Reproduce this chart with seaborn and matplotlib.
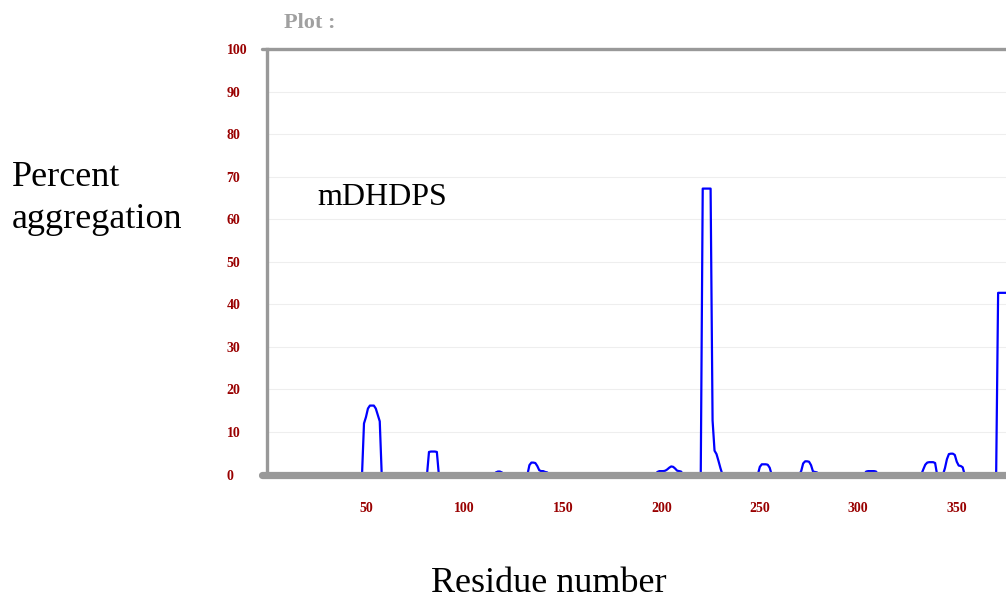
import numpy as np
import pandas as pd
import seaborn as sns
import matplotlib
matplotlib.use("Agg")
import matplotlib.pyplot as plt


# ========================================
# Data
# ========================================
residues = [
    1, 48, 49, 50, 51, 52, 53, 54, 55, 56, 57, 58,
    81, 82, 83, 84, 85, 86, 87,
    115, 116, 117, 118, 119, 120,
    132, 133, 134, 135, 136, 137, 138, 139, 140, 141, 142, 143,
    197, 198, 199, 200, 201, 202, 203, 204, 205, 206, 207, 208, 209, 210, 211,
    220, 221, 222, 223, 224, 225, 226, 227, 228, 229, 230, 231,
    249, 250, 251, 252, 253, 254, 255, 256,
    270, 271, 272, 273, 274, 275, 276, 277, 278, 279, 280,
    303, 304, 305, 306, 307, 308, 309, 310,
    332, 333, 334, 335, 336, 337, 338, 339, 340,
    343, 344, 345, 346, 347, 348, 349, 350, 351, 352, 353, 354,
    370, 371, 372, 373, 374, 375,
]
aggregation = [
    0, 0, 12.0, 13.5, 15.5, 16.2, 16.2, 16.2, 15.5, 14.0, 12.5, 0,
    0, 5.3, 5.4, 5.4, 5.4, 5.3, 0,
    0, 0.5, 0.7, 0.7, 0.5, 0,
    0, 2.2, 2.8, 2.8, 2.7, 2.0, 1.0, 0.8, 0.8, 0.6, 0.5, 0,
    0, 0.6, 0.8, 0.8, 0.8, 0.9, 1.2, 1.6, 1.9, 1.8, 1.4, 0.9, 0.8, 0.7, 0,
    0, 67.2, 67.2, 67.2, 67.2, 67.2, 12.7, 5.6, 4.8, 3.2, 1.5, 0,
    0, 1.8, 2.4, 2.4, 2.4, 2.3, 1.6, 0,
    0, 0.8, 2.6, 3.1, 3.1, 3.0, 2.2, 0.7, 0.6, 0.5, 0,
    0, 0.7, 0.8, 0.8, 0.8, 0.8, 0.7, 0,
    0, 1.2, 2.3, 2.8, 2.9, 2.9, 2.9, 2.7, 0,
    0, 1.5, 3.6, 4.8, 4.9, 4.9, 4.6, 3.0, 2.1, 2.0, 1.7, 0,
    0, 42.7, 42.7, 42.7, 42.7, 42.7,
]

y_ticks = [0, 10, 20, 30, 40, 50, 60, 70, 80, 90, 100]
x_ticks = [50, 100, 150, 200, 250, 300, 350]

df = pd.DataFrame({"residue": residues, "aggregation": aggregation})

# ========================================
# Style
# ========================================
sns.set_style("white")
plt.rcParams["font.family"] = ["Liberation Serif", "DejaVu Serif"]
plt.rcParams["text.color"] = "black"

axis_grey = "#999999"
tick_red = "#990000"

fig = plt.figure(figsize=(10.06, 5.98), dpi=100)
ax = fig.add_axes([0.2659, 0.2065, 0.7341, 0.7115])

sns.lineplot(data=df, x="residue", y="aggregation", ax=ax,
             color="#0000ff", linewidth=1.6, estimator=None, sort=False, zorder=3)

ax.set_xlim(0, 375)
ax.set_ylim(0, 100)
ax.set_xticks(x_ticks)
ax.set_yticks(y_ticks)
ax.set_xlabel("")
ax.set_ylabel("")

ax.set_axisbelow(True)
ax.yaxis.grid(True, color="#eeeeee", linewidth=0.8)
ax.xaxis.grid(False)

for side in ["top", "right", "bottom"]:
    ax.spines[side].set_visible(False)
ax.spines["left"].set_color(axis_grey)
ax.spines["left"].set_linewidth(2.4)

# top frame line and thick base bar, both poking out to the left
ax.axhline(100, xmin=-0.008, xmax=1, color=axis_grey, lw=2.4, clip_on=False, zorder=4)
ax.axhline(0, xmin=-0.008, xmax=1, color=axis_grey, lw=5.2, clip_on=False, zorder=5)

ax.tick_params(axis="y", length=4.3, width=1.5, color=axis_grey, pad=25.2,
               labelsize=10, labelcolor=tick_red)
ax.tick_params(axis="x", length=0, pad=20, labelsize=10, labelcolor=tick_red)
for lbl in ax.get_yticklabels():
    lbl.set_fontweight("bold")
    lbl.set_horizontalalignment("left")
for lbl in ax.get_xticklabels():
    lbl.set_fontweight("bold")

# ========================================
# Annotations
# ========================================
fig.text(0.2823, 1 - 28 / 598, "Plot :", fontsize=16, fontweight="bold",
         color="#a0a0a0", ha="left", va="baseline")
fig.text(317 / 1006, 1 - 205 / 598, "mDHDPS", fontsize=23, color="black",
         ha="left", va="baseline")
fig.text(12 / 1006, 1 - 186 / 598, "Percent", fontsize=26, color="black",
         ha="left", va="baseline")
fig.text(12 / 1006, 1 - 228 / 598, "aggregation", fontsize=26, color="black",
         ha="left", va="baseline")
fig.text(549 / 1006, 1 - 592 / 598, "Residue number", fontsize=26, color="black",
         ha="center", va="baseline")

fig.savefig("out.png", dpi=100)
